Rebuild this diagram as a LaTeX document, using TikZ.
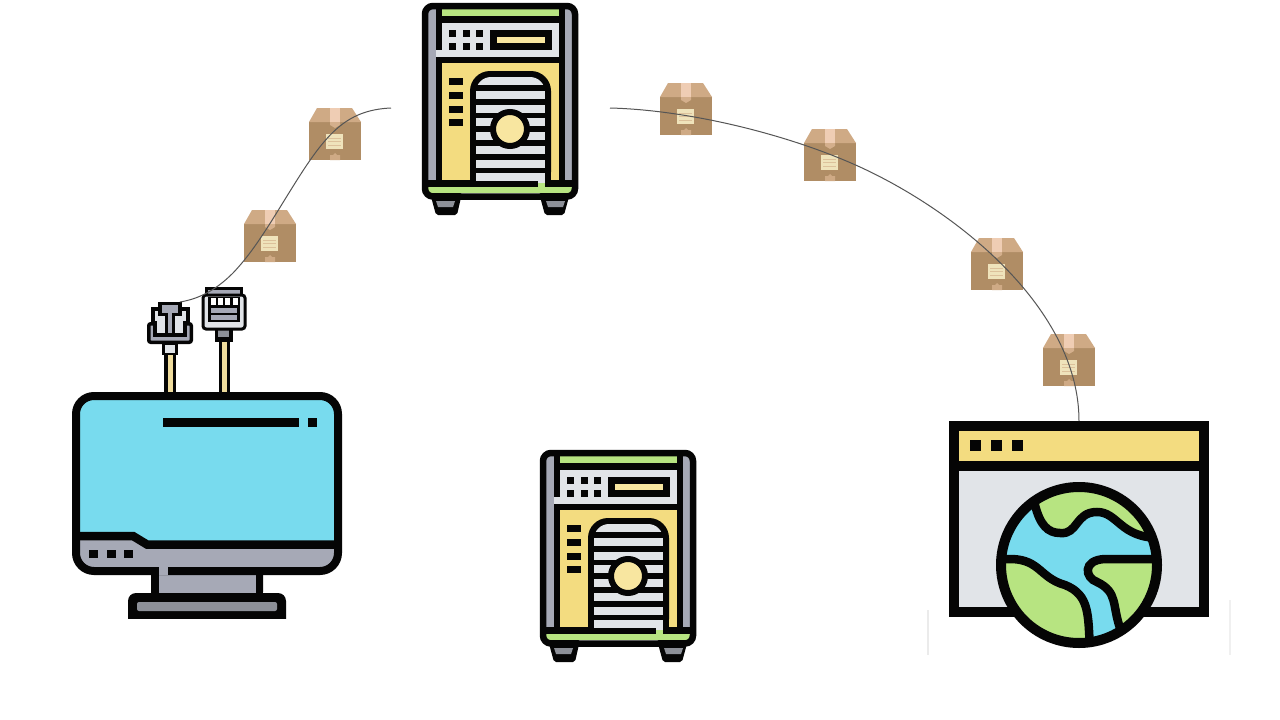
\documentclass[tikz,border=0pt]{standalone}
\definecolor{ink}{HTML}{050505}
\definecolor{sand}{HTML}{F3DC80}
\definecolor{pale}{HTML}{F8E6A0}
\definecolor{cord}{HTML}{EFDC9C}
\definecolor{leaf}{HTML}{B7E481}
\definecolor{sky}{HTML}{78DBEE}
\definecolor{mist}{HTML}{E1E4E8}
\definecolor{steel}{HTML}{A6A9B6}
\definecolor{slate}{HTML}{8D9098}
\definecolor{cardboard}{HTML}{B08D65}
\definecolor{lid}{HTML}{CFAA85}
\definecolor{tape}{HTML}{EFCDB4}
\definecolor{tag}{HTML}{EFE3BB}
\definecolor{wirecol}{HTML}{555555}
\tikzset{
  wire/.style={draw=wirecol,line width=1pt},
  outline/.style={draw=ink,line width=8pt},
  % tower unit, origin in its top left corner
  server/.pic={
    \fill[ink,rounded corners=2pt](8,190)--(40,190)--(35,212)--(14,212)--cycle;\fill[ink,rounded corners=2pt](117,190)--(148,190)--(142,212)--(123,212)--cycle;
    \fill[slate](14,198)--(33,198)--(31,204)--(16,204)--cycle;\fill[slate](124,198)--(143,198)--(141,204)--(126,204)--cycle;
    \fill[ink](6,6)rectangle(150,190);
    \fill[steel](6,6)rectangle(14,177);\fill[steel](143,6)rectangle(150,177);
    \fill[leaf](20,6)rectangle(137,13);
    \fill[mist](20,20)rectangle(137,54);\fill[mist](14,47)rectangle(20,54);
    \foreach \dotx in {27,41,54}{\foreach \doty in {27,40}{\fill[ink](\dotx,\doty)rectangle++(7,7);}}
    \fill[ink](68,27)rectangle(130,47);\fill[pale](75,34)rectangle(123,40);
    \fill[sand](20,60)rectangle(137,177);
    \foreach \doty in {75,89,103,116}{\fill[ink](27,\doty)rectangle(41,\doty+6.5);}
    \fill[ink,rounded corners=20pt](48,68)rectangle(129,189);\fill[ink](48,110)rectangle(129,177);
    \begin{scope}
      \clip[rounded corners=15pt](54,74)rectangle(123,200);
      \foreach \doty in {74,88,102,115,129,143,157,170}{\fill[mist](54,\doty)rectangle(123,\doty+7.5);}
    \end{scope}
    \fill[mist](116,170)rectangle(123,180);
    \fill[leaf](6,184)rectangle(150,190);\fill[leaf](116,180)rectangle(123,184);
    \draw[ink,line width=6pt,fill=pale](88,126)circle(17);
    \draw[draw=ink,line width=6.5pt,rounded corners=8pt](3,3)rectangle(153,193.5);
  },
  % cardboard box, origin in its top left corner
  parcel/.pic={
    \fill[cardboard](0,14)rectangle(52,52);
    \fill[lid](8,0)--(43,0)--(52,14)--(0,14)--cycle;
    \fill[tape](21,0)--(31,0)--(31,14)--(21,14)--cycle;
    \fill[lid!85!tape](21,14)--(31,14)--(31,17)--(26,20)--(21,17)--cycle;
    \fill[lid](21,52)--(21,47)--(24,47)--(26,45)--(28,47)--(31,47)--(31,52)--cycle;
    \fill[tag](17,26)rectangle(34,41);
    \foreach \liney in {30,33.5,37}{\draw[lid!60!tag,line width=.5pt](19,\liney)--(32,\liney);}
  }
}
\begin{document}
\begin{tikzpicture}[x=1pt,y=-1pt]
\useasboundingbox(0,0)rectangle(1280,720);
\fill[white](0,0)rectangle(1280,720);
\coordinate(wirestartL)at(391,108);\coordinate(wireendL)at(180,302);
\coordinate(wirestartR)at(610,108);\coordinate(wireendR)at(1079,421);
% monitor
\fill[ink,rounded corners=8pt](151,560)rectangle(263,600);
\fill[steel](159,567)rectangle(256,593);\fill[ink](168,567)rectangle(256,575);
\fill[ink,rounded corners=8pt](128,593)rectangle(286,630);\fill[white](120,619)rectangle(295,635);
\fill[slate,rounded corners=2pt](137,602)rectangle(277,611);
\fill[sky,rounded corners=14pt](76,396)rectangle(338,571);
\begin{scope}
  \clip[rounded corners=18pt](76,396)rectangle(338,571);
  \fill[steel](76,536)--(133,536)--(147,544.5)--(338,544.5)--(338,571)--(76,571)--cycle;
  \draw[ink,line width=8.5pt](70,536)--(133,536)--(147,544.5)--(345,544.5);
\end{scope}
\fill[ink](168,567)rectangle(256,575);
\draw[outline,rounded corners=18pt](76,396)rectangle(338,571);
\fill[steel](159,567)rectangle(168,575);
\fill[ink](163,418)rectangle(299,427);\fill[ink](308,418)rectangle(317,427);
\foreach \dotx in {89,107,124}{\fill[ink](\dotx,550)rectangle++(8.5,8);}
% plugs on top of the monitor
\fill[ink](164,355)rectangle(176,392);\fill[cord](168,355)rectangle(173,392);
\fill[ink](162,342)rectangle(178,355);\fill[mist](165,345)rectangle(175,353);
\draw[ink,line width=3.5pt,fill=steel,rounded corners=2pt](148.75,323.75)rectangle(191.25,342.25);
\draw[ink,line width=3.5pt,fill=mist](153,309)--(188,309)--(188,323)--(185,323)--(185,335)--(155,335)--(155,323)--(153,323)--cycle;
\fill[ink](158,302)rectangle(182,316);\fill[ink](165,313)rectangle(175,336);
\fill[steel](162,305)rectangle(178,313);\fill[steel](168,313)rectangle(172,333);
\fill[ink](219,340)rectangle(230,392);\fill[cord](222,340)rectangle(227,392);
\fill[ink](215,328)rectangle(233,342);\fill[slate](218,330)rectangle(229,337);
\draw[ink,line width=2.5pt,fill=steel](206.5,288.5)rectangle(241.5,296);
\draw[ink,line width=3pt,fill=mist,rounded corners=3pt](203,295)rectangle(245,329);
\fill[ink](208,297)rectangle(240,322);
\foreach \slotx in {211,218,225,233}{\fill[white](\slotx,298)rectangle++(4.5,7);}
\fill[steel](211,308)rectangle(237,313);\fill[steel](211,315)rectangle(237,320);
% two towers
\pic at(422,3){server};
\pic at(540,450){server};
% browser window with globe
\fill[mist](954,466)rectangle(1204,612);
\fill[sand](954,426)rectangle(1204,466);
\fill[ink](954,461)rectangle(1204,471);
\draw[draw=ink,line width=10pt](954,426)rectangle(1204,612);
\foreach \dotx in {970,991,1012}{\fill[ink](\dotx,440)rectangle++(10.5,11);}
\fill[sky](1079,565)circle(78);
\begin{scope}
  \clip(1079,565)circle(78);
  \fill[leaf](1035,505)..controls(1040,525)and(1048,533)..(1060,533)..controls(1078,535)and(1075,512)..(1097,512)..controls(1118,512)and(1120,538)..(1160,538)--(1160,480)--(1035,480)--cycle;
  \fill[leaf](995,559)--(1012,559)..controls(1040,560)and(1040,578)..(1065,585)..controls(1090,595)and(1088,615)..(1090,650)--(990,650)--cycle;
  \fill[leaf](1165,559)--(1105,559)..controls(1082,560)and(1085,578)..(1097,582)..controls(1118,592)and(1112,605)..(1120,628)--(1165,630)--cycle;
  \draw[ink,line width=8.5pt](1035,505)..controls(1040,525)and(1048,533)..(1060,533)..controls(1078,535)and(1075,512)..(1097,512)..controls(1118,512)and(1120,538)..(1160,538);
  \draw[ink,line width=8.5pt](995,559)--(1012,559)..controls(1040,560)and(1040,578)..(1065,585)..controls(1090,595)and(1088,615)..(1090,650);
  \draw[ink,line width=8.5pt](1165,559)--(1105,559)..controls(1082,560)and(1085,578)..(1097,582)..controls(1118,592)and(1112,605)..(1120,628);
\end{scope}
\draw[ink,line width=10pt](1079,565)circle(78);
\fill[black!8](927,610)rectangle(929,655);\fill[black!6](1229,600)rectangle(1231,655);
% boxes along the two wires
\foreach \boxx/\boxy in {309/108,244/210,660/83,804/129,971/238,1043/334}{\pic at(\boxx,\boxy){parcel};}
\draw[wire](wirestartL)..controls(345,110)and(325,135)..(292,188)..controls(272,220)and(255,250)..(233,273)..controls(215,291)and(198,299)..(wireendL);
\draw[wire](wirestartR)..controls(690,110)and(790,135)..(860,167)..controls(960,213)and(1079,310)..(wireendR);
\end{tikzpicture}
\end{document}
